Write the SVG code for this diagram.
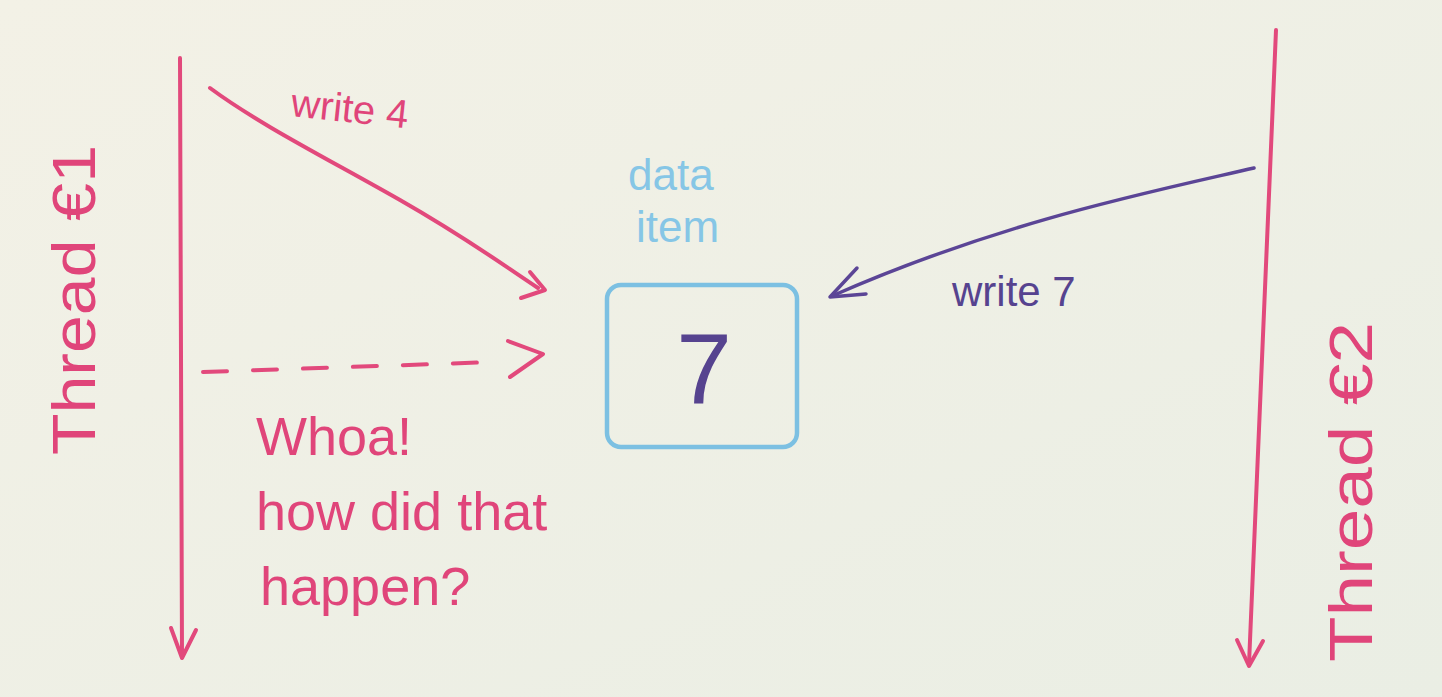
<svg xmlns="http://www.w3.org/2000/svg" width="1442" height="697" viewBox="0 0 1442 697">
<defs>
<linearGradient id="bg" x1="0" y1="0" x2="1" y2="1">
<stop offset="0" stop-color="#f3f1e6"/>
<stop offset="1" stop-color="#eaeee4"/>
</linearGradient>
</defs>
<style>
.pink{stroke:#e2497c;fill:none;stroke-width:4;stroke-linecap:round;stroke-linejoin:round}
.purple{stroke:#5b4596;fill:none;stroke-width:3.5;stroke-linecap:round;stroke-linejoin:round}
.cyan{stroke:#7cc0e2;fill:none;stroke-width:4.5}
.tp{fill:#e0457a;font-family:"Liberation Sans","DejaVu Sans",sans-serif}
.tv{fill:#56438f;font-family:"Liberation Sans","DejaVu Sans",sans-serif}
.tc{fill:#86c6e6;font-family:"Liberation Sans","DejaVu Sans",sans-serif}
</style>
<rect width="1442" height="697" fill="url(#bg)"/>
<g id="thread1">
<path class="pink" d="M180 58 L182 655"/>
<path class="pink" d="M171 628 L182 658 L196 630"/>
<text class="tp" font-size="62" transform="translate(95 455) rotate(-90)" textLength="310" lengthAdjust="spacingAndGlyphs">Thread €1</text>
</g>
<g id="thread2">
<path class="pink" d="M1276 30 L1249 664"/>
<path class="pink" d="M1237 640 L1249 666 L1263 641"/>
<text class="tp" font-size="62" transform="translate(1372 662) rotate(-90)" textLength="340" lengthAdjust="spacingAndGlyphs">Thread €2</text>
</g>
<g id="dataitem">
<text class="tc" font-size="44" x="628" y="190">data</text>
<text class="tc" font-size="44" x="636" y="242">item</text>
<rect class="cyan" x="607" y="285" width="190" height="162" rx="14"/>
<text class="tv" font-size="100" x="704" y="404" text-anchor="middle">7</text>
</g>
<g id="labels">
<text class="tp" font-size="40" x="290" y="116" transform="rotate(6 290 116)">write 4</text>
<text class="tv" font-size="42" x="952" y="306">write 7</text>
<text class="tp" font-size="54" x="256" y="455">Whoa!</text>
<text class="tp" font-size="54" x="256" y="530">how did that</text>
<text class="tp" font-size="54" x="260" y="605">happen?</text>
</g>
<g id="connectors">
<path class="pink" d="M210 88 C260 125 330 160 400 200 S500 263 538 288"/>
<path class="pink" d="M530 272 L545 290 L521 298"/>
<path class="pink" d="M203 372 L495 362" stroke-dasharray="24 26"/>
<path class="pink" d="M508 341 L543 354 L510 377"/>
<path class="purple" d="M1254 168 C1150 192 1000 222 832 296"/>
<path class="purple" d="M857 268 L830 297 L866 294"/>
</g>
</svg>
